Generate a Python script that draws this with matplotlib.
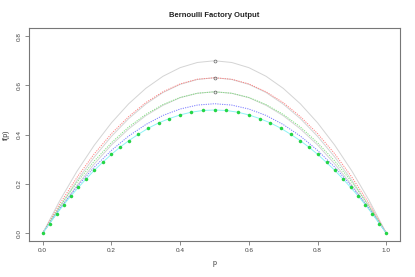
import matplotlib
matplotlib.use("Agg")
import matplotlib.pyplot as plt

plt.rcParams["font.family"] = ["Liberation Sans", "DejaVu Sans"]

# ---- data ----
p_grid = [0.0, 0.05, 0.1, 0.15, 0.2, 0.25, 0.3, 0.35, 0.4, 0.45, 0.5,
          0.55, 0.6, 0.65, 0.7, 0.75, 0.8, 0.85, 0.9, 0.95, 1.0]

gray_top_half = [0, 0.133, 0.252, 0.357, 0.448, 0.525, 0.588, 0.637, 0.672, 0.693, 0.700]
red_half      = [0, 0.120, 0.227, 0.322, 0.404, 0.473, 0.530, 0.574, 0.606, 0.625, 0.631]
gray_red_half = [0, 0.109, 0.214, 0.309, 0.393, 0.465, 0.524, 0.571, 0.604, 0.624, 0.631]
green_half    = [0, 0.109, 0.207, 0.293, 0.367, 0.431, 0.482, 0.522, 0.551, 0.568, 0.574]
gray_grn_half = [0, 0.099, 0.194, 0.281, 0.358, 0.423, 0.477, 0.519, 0.550, 0.568, 0.574]
blue_half     = [0, 0.100, 0.189, 0.268, 0.336, 0.394, 0.441, 0.478, 0.504, 0.520, 0.5255]

def sym(h):
    return h + h[-2::-1]

gray_top = sym(gray_top_half)
red_vals = sym(red_half)
gray_red = sym(gray_red_half)
green_vals = sym(green_half)
gray_grn = sym(gray_grn_half)
blue_vals = sym(blue_half)

pt_p_half = [0.0, 0.020, 0.041, 0.061, 0.082, 0.104, 0.126, 0.150, 0.174, 0.200,
             0.225, 0.251, 0.278, 0.307, 0.338, 0.368, 0.400, 0.432, 0.466, 0.5]
pt_f_half = [0.0, 0.039, 0.079, 0.115, 0.151, 0.186, 0.220, 0.255, 0.287, 0.320,
             0.349, 0.376, 0.401, 0.426, 0.448, 0.465, 0.480, 0.491, 0.498, 0.5]
pt_p = pt_p_half + [round(1 - v, 3) for v in pt_p_half[-2::-1]]
pt_f = pt_f_half + pt_f_half[-2::-1]

mid_p = [0.5, 0.5, 0.5]
mid_f = [0.700, 0.631, 0.574]

x_ticks = [0.0, 0.2, 0.4, 0.6, 0.8, 1.0]
y_ticks = [0.0, 0.2, 0.4, 0.6, 0.8]

# ---- figure ----
fig = plt.figure(figsize=(4.15, 2.77), dpi=100)
ax = fig.add_axes([0.0699, 0.130, 0.894, 0.768])

ax.plot(p_grid, gray_top, color="#d4d4d4", lw=0.7)
ax.plot(p_grid, gray_red, color="#d4d4d4", lw=0.7)
ax.plot(p_grid, gray_grn, color="#d4d4d4", lw=0.7)
ax.plot(p_grid, red_vals, color="#ff8080", lw=0.7, ls=(0, (1.2, 1.2)))
ax.plot(p_grid, green_vals, color="#80e080", lw=0.7, ls=(0, (1.2, 1.2)))
ax.plot(p_grid, blue_vals, color="#7878ff", lw=0.7, ls=(0, (1.2, 1.2)))
ax.plot(pt_p, pt_f, color="#8ff4f4", lw=0.7)
ax.plot(pt_p, pt_f, ls="none", marker="o", ms=2.2, mfc="#22dd44", mec="#1cc03c", mew=0.3)
ax.plot(mid_p, mid_f, ls="none", marker="o", ms=2.1, mfc="none", mec="#666666", mew=0.5)

ax.set_xlim(-0.04, 1.04)
ax.set_ylim(-0.032, 0.832)
ax.set_xticks(x_ticks)
ax.set_xticklabels([f"{v:.1f}" for v in x_ticks])
ax.set_yticks(y_ticks)
ax.set_yticklabels([f"{v:.1f}" for v in y_ticks], rotation=90, va="center")

for s in ax.spines.values():
    s.set_color("#777777")
    s.set_linewidth(0.8)
ax.tick_params(axis="both", length=2.6, width=0.6, color="#777777",
               labelsize=4.6, labelcolor="#444444", pad=2.5)

ax.set_xlabel("p", fontsize=5, color="#333333", labelpad=5)
ax.set_ylabel("f(p)", fontsize=5, color="#333333", labelpad=5)
ax.set_title("Bernoulli Factory Output", fontsize=5.5, fontweight="bold",
             color="#222222", pad=8)

fig.savefig("out.png", dpi=100)
